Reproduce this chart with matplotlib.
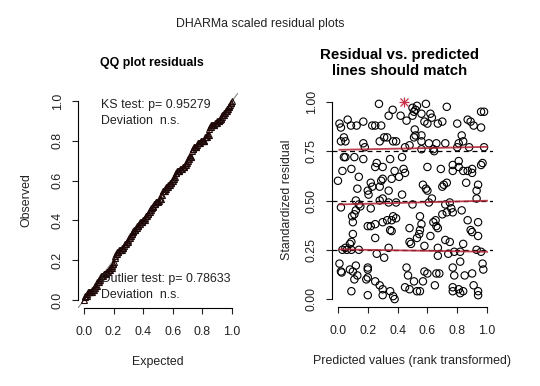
import numpy as np
import matplotlib
matplotlib.use("Agg")
import matplotlib.pyplot as plt

plt.rcParams['font.family'] = ['Liberation Sans', 'DejaVu Sans']

# residuals (predicted rank, scaled residual)
pred = [0.275, 0.50, 0.52, 0.53, 0.59, 0.73,
        0.01, 0.02, 0.065, 0.087, 0.125, 0.17, 0.23, 0.25, 0.29, 0.34, 0.367, 0.42, 0.46, 0.50, 0.51, 0.56,
        0.515, 0.52, 0.56, 0.58, 0.60, 0.62, 0.63, 0.67, 0.70, 0.80, 0.87, 0.89, 0.91, 0.96, 0.98, 0.96,
        0.02, 0.04, 0.05, 0.17, 0.18, 0.28, 0.31, 0.33, 0.37, 0.39, 0.45, 0.48, 0.51, 0.56, 0.61, 0.66,
        0.56, 0.64, 0.645, 0.72, 0.80, 0.81, 0.83, 0.84, 0.88, 0.98,
        0.04, 0.05, 0.11, 0.17, 0.26, 0.25, 0.35, 0.43,
        0.00, 0.03, 0.09, 0.14, 0.13, 0.22, 0.23, 0.28, 0.29, 0.30, 0.30, 0.38, 0.36, 0.44, 0.45, 0.41,
        0.57, 0.59, 0.60, 0.60, 0.69, 0.70, 0.71, 0.73, 0.77, 0.77, 0.81, 0.81, 0.84, 0.87, 0.90, 0.90,
        0.86, 0.94, 0.96, 0.97, 0.93,
        0.02, 0.20, 0.205, 0.28, 0.30, 0.34, 0.34, 0.12, 0.14, 0.15, 0.12, 0.11, 0.095, 0.10, 0.22, 0.20,
        0.22, 0.25, 0.30, 0.33, 0.35, 0.36, 0.37, 0.39, 0.36, 0.43, 0.39, 0.50, 0.48, 0.55, 0.56, 0.55,
        0.53, 0.545, 0.61, 0.63, 0.64, 0.655, 0.66, 0.67, 0.62, 0.58, 0.72, 0.75, 0.70, 0.73, 0.76, 0.77,
        0.72, 0.75, 0.67, 0.67, 0.74, 0.78, 0.82, 0.84, 0.83, 0.87, 0.89, 0.90, 0.94, 0.94, 0.93, 0.93,
        0.96,
        0.10, 0.08, 0.09, 0.25, 0.26, 0.31, 0.34, 0.48, 0.49, 0.03, 0.05, 0.06, 0.09, 0.14,
        0.01, 0.02, 0.025, 0.08, 0.10, 0.12, 0.13, 0.11, 0.20, 0.20, 0.19, 0.20, 0.25, 0.09, 0.20, 0.28,
        0.30, 0.30, 0.35, 0.37, 0.38, 0.46, 0.47, 0.45, 0.48, 0.51, 0.53, 0.55, 0.58, 0.60, 0.57, 0.66,
        0.68, 0.65, 0.77, 0.78, 0.77, 0.77, 0.82, 0.81, 0.82, 0.84, 0.85, 0.90, 0.91, 0.94, 0.94, 0.97,
        0.975]
resid = [0.99, 0.97, 0.96, 0.98, 0.99, 0.975,
         0.89, 0.87, 0.91, 0.88, 0.88, 0.90, 0.88, 0.88, 0.88, 0.93, 0.96, 0.93, 0.905, 0.93, 0.95, 0.94,
         0.86, 0.83, 0.83, 0.90, 0.89, 0.94, 0.92, 0.89, 0.90, 0.89, 0.91, 0.90, 0.88, 0.95, 0.95, 0.87,
         0.80, 0.82, 0.80, 0.79, 0.77, 0.80, 0.82, 0.82, 0.80, 0.80, 0.77, 0.78, 0.82, 0.80, 0.79, 0.79,
         0.76, 0.76, 0.75, 0.79, 0.77, 0.79, 0.83, 0.80, 0.77, 0.77,
         0.72, 0.72, 0.72, 0.71, 0.69, 0.67, 0.71, 0.72,
         0.60, 0.65, 0.66, 0.62, 0.56, 0.59, 0.57, 0.57, 0.60, 0.61, 0.67, 0.65, 0.61, 0.66, 0.64, 0.62,
         0.58, 0.56, 0.55, 0.67, 0.66, 0.57, 0.58, 0.59, 0.65, 0.68, 0.70, 0.67, 0.65, 0.65, 0.66, 0.64,
         0.59, 0.58, 0.68, 0.69, 0.51,
         0.465, 0.55, 0.53, 0.50, 0.51, 0.55, 0.49, 0.50, 0.48, 0.47, 0.45, 0.43, 0.42, 0.39, 0.46, 0.37,
         0.37, 0.38, 0.39, 0.40, 0.35, 0.345, 0.42, 0.41, 0.40, 0.53, 0.49, 0.48, 0.36, 0.42, 0.38, 0.35,
         0.31, 0.33, 0.49, 0.51, 0.39, 0.40, 0.37, 0.36, 0.32, 0.27, 0.48, 0.49, 0.43, 0.44, 0.46, 0.44,
         0.30, 0.29, 0.26, 0.22, 0.23, 0.24, 0.24, 0.28, 0.45, 0.40, 0.35, 0.34, 0.39, 0.32, 0.55, 0.25,
         0.24,
         0.33, 0.28, 0.29, 0.31, 0.23, 0.21, 0.26, 0.29, 0.28, 0.25, 0.26, 0.25, 0.25, 0.25,
         0.18, 0.14, 0.135, 0.15, 0.14, 0.17, 0.12, 0.10, 0.16, 0.15, 0.10, 0.11, 0.09, 0.04, 0.02, 0.07,
         0.05, 0.02, 0.04, 0.015, 0.00, 0.16, 0.12, 0.06, 0.05, 0.09, 0.04, 0.04, 0.14, 0.13, 0.09, 0.13,
         0.13, 0.07, 0.16, 0.12, 0.06, 0.04, 0.19, 0.05, 0.03, 0.04, 0.12, 0.13, 0.07, 0.04, 0.02, 0.18,
         0.15]

# the one flagged outlier (red star)
out_pred = [0.443]
out_resid = [0.998]

# quantile regression lines (0.25, 0.5, 0.75)
qx = [0.01, 1.0]
q25 = [0.252, 0.240]
q50 = [0.480, 0.499]
q75 = [0.757, 0.772]

ks_text = "KS test: p= 0.95279\nDeviation  n.s."
out_text = "Outlier test: p= 0.78633\nDeviation  n.s."

fig = plt.figure(figsize=(5.4, 3.86), dpi=100)
W, H = 540.0, 386.0

def add_ax(left, top, right, bottom):
    return fig.add_axes([left / W, 1 - bottom / H, (right - left) / W, (bottom - top) / H])

fs = 8.9

def r_style(ax, yticks, ylabels):
    ax.set_xlim(-0.04, 1.04)
    ax.set_ylim(-0.04, 1.04)
    for s in ['top', 'right']:
        ax.spines[s].set_visible(False)
    ax.spines['left'].set_bounds(0, 1)
    ax.spines['bottom'].set_bounds(0, 1)
    ax.spines['left'].set_linewidth(0.8)
    ax.spines['bottom'].set_linewidth(0.8)
    ax.set_xticks([0, 0.2, 0.4, 0.6, 0.8, 1.0])
    ax.set_xticklabels(["0.0", "0.2", "0.4", "0.6", "0.8", "1.0"])
    ax.set_yticks(yticks)
    ax.set_yticklabels(ylabels, rotation=90, va='center')
    ax.tick_params(length=4.3, width=0.8, labelsize=fs, pad=6, colors='#222222')
    ax.tick_params(axis='x', pad=8.5)
    ax.set_facecolor('none')

# left: QQ plot
ax1 = add_ax(78, 93, 238, 308)
r_style(ax1, [0, 0.2, 0.4, 0.6, 0.8, 1.0], ["0.0", "0.2", "0.4", "0.6", "0.8", "1.0"])
obs = np.sort(np.array(resid + out_resid))
n = len(obs)
expected = (np.arange(1, n + 1) - 0.5) / n
ax1.axline((0, 0), (1, 1), color='#888888', lw=0.8, zorder=1)
ax1.plot(expected, obs, color='#8a1818', lw=1.0, alpha=0.7, zorder=2)
ax1.plot(expected, obs, ls='none', marker='^', ms=4, mfc='none', mec='#1e0808', mew=0.8, zorder=3)
ax1.text(0.115, 0.94, ks_text, fontsize=fs, va='center', ha='left', linespacing=1.4, color='#222222')
ax1.text(0.115, 0.065, out_text, fontsize=fs, va='center', ha='left', linespacing=1.4, color='#222222')

# right: residual vs predicted
ax2 = add_ax(332, 94, 493, 307)
r_style(ax2, [0, 0.25, 0.5, 0.75, 1.0], ["0.00", "0.25", "0.50", "0.75", "1.00"])
for h in [0.25, 0.5, 0.75]:
    ax2.axhline(h, color='black', ls=(0, (4, 3)), lw=0.9, zorder=1)
ax2.scatter(pred, resid, s=28, facecolors='none', edgecolors='black', linewidths=0.8, zorder=2)
for qy in [q25, q50, q75]:
    ax2.plot(qx, qy, color='#b02030', lw=1.3, alpha=0.85, zorder=3)
ax2.plot(out_pred, out_resid, ls='none', marker='+', ms=7, mew=0.9, color='#c8304a', zorder=4)
ax2.plot(out_pred, out_resid, ls='none', marker='x', ms=5.5, mew=0.9, color='#c8304a', zorder=4)

# titles and labels
fig.text(260 / W, 1 - 24 / H, "DHARMa scaled residual plots", ha='center', va='center', fontsize=fs, color='#222222')
fig.text(151.5 / W, 1 - 63 / H, "QQ plot residuals", ha='center', va='center', fontsize=fs, fontweight='bold')
fig.text(399.5 / W, 1 - 63 / H, "Residual vs. predicted\nlines should match", ha='center', va='center',
         fontsize=10.8, fontweight='bold', linespacing=1.2)
fig.text(157.5 / W, 1 - 362 / H, "Expected", ha='center', va='center', fontsize=fs, color='#222222')
fig.text(26 / W, 1 - 200 / H, "Observed", ha='center', va='center', rotation=90, fontsize=fs, color='#222222')
fig.text(411.7 / W, 1 - 361 / H, "Predicted values (rank transformed)", ha='center', va='center', fontsize=fs, color='#222222')
fig.text(287 / W, 1 - 200 / H, "Standardized residual", ha='center', va='center', rotation=90, fontsize=fs, color='#222222')

fig.savefig("out.png", dpi=100)
